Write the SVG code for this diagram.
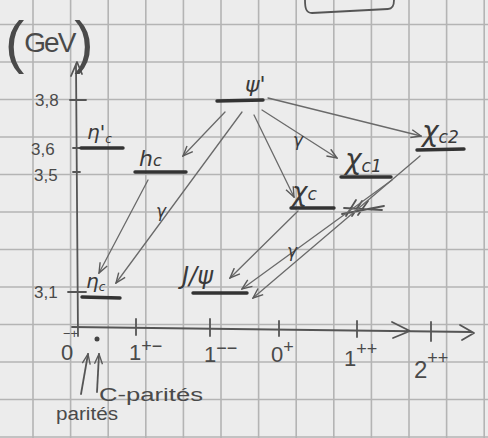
<svg xmlns="http://www.w3.org/2000/svg" width="488" height="438" viewBox="0 0 488 438">
<defs>
<style>
.grid{stroke:#b4b4b4;stroke-width:1.6}
.pen{fill:none;stroke:#555;stroke-width:1.8;stroke-linecap:round;stroke-linejoin:round}
.lvl{fill:none;stroke:#333;stroke-width:3.4;stroke-linecap:round}
.conn{fill:none;stroke:#6a6a6a;stroke-width:1.3;stroke-linecap:round}
.t{font-family:"Liberation Sans","DejaVu Sans",sans-serif;fill:#4a4a4a}
.lab{font-family:"DejaVu Sans","Liberation Sans",sans-serif;fill:#3a3a3a;font-style:italic}
</style>
<marker id="ah" viewBox="0 0 12 10" refX="11" refY="5" markerWidth="12" markerHeight="10" markerUnits="userSpaceOnUse" orient="auto">
<path d="M1,1 L11,5 L1,9" fill="none" stroke="#5a5a5a" stroke-width="1.4"/>
</marker>
</defs>
<rect width="488" height="438" fill="#ececec"/>
<g id="grid">
<path class="grid" d="M33,0V438M70.6,0V438M108.2,0V438M145.8,0V438M183.4,0V438M221,0V438M258.6,0V438M296.2,0V438M333.8,0V438M371.4,0V438M409,0V438M446.6,0V438M484.2,0V438"/>
<path class="grid" d="M0,24.5H488M0,62H488M0,99.5H488M0,137H488M0,174.5H488M0,212H488M0,249.5H488M0,287H488M0,324.5H488M0,362H488M0,399.5H488M0,437H488"/>
</g>
<g id="box"><path class="pen" stroke="#3a3a3a" stroke-width="3.2" d="M305,0 C305,8 306,13 312,13 L388,9 C393,9 394,5 394,0"/></g>
<g id="axes">
<path class="pen" d="M78,336 L76,64 M71,76 L77,62 L82,74"/>
<path class="pen" d="M72,327 L472,332 M392,322 L410,331 L393,338 M460,325 L474,333 L462,340"/>
<path class="pen" d="M70,100 H86 M73,148 H80 M73,172 H80 M68,292 H86 M136,319 V335 M210,319 V336 M279,321 V336 M357,321 V337 M431,322 V341"/>
</g>
<g id="unit"><text class="t" x="5" y="62" fill="#666"><tspan font-size="58">(</tspan><tspan font-size="28" dy="-10" fill="#4a4a4a" textLength="52">GeV</tspan><tspan font-size="58" dy="10">)</tspan></text></g>
<g id="yticks" class="t" font-size="17">
<text x="35" y="106">3,8</text>
<text x="31" y="155">3,6</text>
<text x="34" y="181">3,5</text>
<text x="34" y="298">3,1</text>
</g>
<g id="psi2S"><path class="lvl" d="M217,101 L263,100"/><text class="lab" x="245" y="92" font-size="22">ψ'</text></g>
<g id="etac2S"><path class="lvl" d="M81,148 L123,148"/><text class="lab" x="87" y="139" font-size="20">η'<tspan font-size="12" dy="4">c</tspan></text></g>
<g id="hc"><path class="lvl" d="M135,172 L186,172"/><text class="lab" x="139" y="166" font-size="22">h<tspan font-size="16">c</tspan></text></g>
<g id="chic2"><path class="lvl" d="M417,150 L464,149"/><text class="lab" x="422" y="141" font-size="28">χ<tspan font-size="17" dy="2">c2</tspan></text></g>
<g id="chic1"><path class="lvl" d="M341,177 L391,177"/><text class="lab" x="345" y="169" font-size="28">χ<tspan font-size="17" dy="3">c1</tspan></text></g>
<g id="chic0"><path class="lvl" d="M291,208 L334,208"/><text class="lab" x="292" y="201" font-size="26">χ<tspan font-size="17" dy="-1">c</tspan></text>
<path class="pen" stroke="#3a3a3a" stroke-width="2" d="M342,214 L384,206 M346,216 L356,200 M352,216 L362,201 M358,215 L368,201 M344,208 L382,210"/></g>
<g id="jpsi"><path class="lvl" d="M193,293 L247,293"/><text class="lab" x="182" y="284" font-size="24" font-style="normal">J/ψ</text></g>
<g id="etac"><path class="lvl" d="M82,297 L120,298"/><text class="lab" x="86" y="288" font-size="20">η<tspan font-size="12" dy="3">c</tspan></text></g>
<g id="connectors">
<path class="conn" marker-end="url(#ah)" d="M268,98 L421,136"/>
<path class="conn" marker-end="url(#ah)" d="M262,110 L337,158"/>
<path class="conn" marker-end="url(#ah)" d="M254,115 L294,197"/>
<path class="conn" marker-end="url(#ah)" d="M225,112 L183,156"/>
<path class="conn" marker-end="url(#ah)" d="M242,112 L116,283"/>
<path class="conn" marker-end="url(#ah)" d="M148,180 L99,273"/>
<path class="conn" marker-end="url(#ah)" d="M298,211 L230,278"/>
<path class="conn" marker-end="url(#ah)" d="M392,180 L242,289"/>
<path class="conn" marker-end="url(#ah)" d="M420,156 L253,298"/>
</g>
<g id="gammas" class="lab" font-size="17">
<text x="293" y="146">γ</text>
<text x="156" y="217">γ</text>
<text x="287" y="257">γ</text>
</g>
<g id="xlabels" class="t">
<text x="63" y="338" font-size="13">−+</text>
<text x="61" y="360" font-size="22">0</text>
<circle cx="97" cy="339" r="2.5" fill="#444"/>
<text x="129" y="360" font-size="22">1<tspan font-size="18" dy="-8">+−</tspan></text>
<text x="204" y="362" font-size="22">1<tspan font-size="18" dy="-8">−−</tspan></text>
<text x="271" y="362" font-size="22">0<tspan font-size="18" dy="-9">+</tspan></text>
<text x="344" y="366" font-size="22">1<tspan font-size="18" dy="-11">++</tspan></text>
<text x="414" y="378" font-size="24">2<tspan font-size="18" dy="-14">++</tspan></text>
</g>
<g id="parity-notes">
<path class="pen" stroke-width="1.4" marker-end="url(#ah)" d="M81,394 L88,354"/>
<path class="pen" stroke-width="1.4" marker-end="url(#ah)" d="M97,392 L99,354"/>
<text class="t" x="99" y="401" font-size="18" textLength="104" lengthAdjust="spacingAndGlyphs">C-parités</text>
<text class="t" x="56" y="420" font-size="18" textLength="62" lengthAdjust="spacingAndGlyphs">parités</text>
</g>
</svg>
